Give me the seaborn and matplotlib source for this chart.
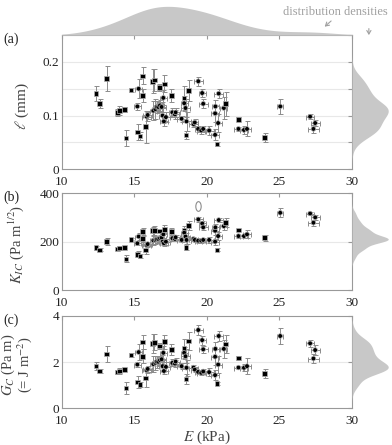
import numpy as np
import pandas as pd
import matplotlib
matplotlib.use("Agg")
import matplotlib.pyplot as plt
import seaborn as sns
from matplotlib.markers import MarkerStyle
from matplotlib.transforms import Affine2D

# Young's modulus (kPa) and its uncertainty
E = [12.34, 12.59, 13.09, 13.83, 13.96, 14.31, 14.42, 14.77, 15.20, 15.22,
     15.29, 15.38, 15.57, 15.57, 15.77, 15.84, 15.91, 16.25, 16.30, 16.37,
     16.44, 16.53, 16.64, 16.71, 16.76, 16.87, 16.94, 16.99, 17.06, 17.03,
     17.17, 17.54, 17.61, 17.79, 17.84, 18.25, 18.41, 18.43, 18.52, 18.55,
     18.59, 18.73, 19.07, 19.16, 19.40, 19.39, 19.60, 19.67, 19.74, 19.74,
     20.15, 20.56, 20.56, 20.58, 20.70, 20.77, 20.81, 21.16, 21.29, 22.17,
     22.17, 22.55, 22.76, 23.97, 25.05, 27.11, 27.46, 27.34]
E_err = [0, 0, 0, 0, 0, 0, 0, 0, 0.25, 0,
         0.25, 0, 0, 0, 0, 0.3, 0.3, 0, 0.25, 0,
         0.25, 0.25, 0.3, 0, 0.3, 0.3, 0.25, 0.25, 0, 0.3,
         0.3, 0, 0.25, 0.25, 0.3, 0.3, 0, 0.25, 0.3, 0,
         0.3, 0, 0.3, 0.25, 0.3, 0.25, 0.3, 0.25, 0.3, 0.3,
         0.3, 0.25, 0.3, 0.25, 0, 0.25, 0.3, 0.25, 0, 0,
         0.3, 0.25, 0.3, 0, 0.2, 0.3, 0.3, 0.4]
shape = ["s", "s", "s", "s", "s", "s", "s", "s", "o", "s",
         "o", "s", "s", "s", "s", "o", "o", "s", "o", "s",
         "o", "o", "o", "s", "o", "o", "o", "o", "s", "o",
         "o", "s", "o", "o", "o", "o", "s", "o", "o", "s",
         "o", "s", "o", "o", "o", "o", "o", "o", "o", "o",
         "o", "o", "o", "o", "s", "o", "o", "o", "s", "s",
         "o", "o", "o", "s", "o", "o", "o", "o"]

# (a) process zone length (mm)
ell = [0.141, 0.122, 0.169, 0.106, 0.109, 0.111, 0.058, 0.148, 0.117, 0.069,
       0.150, 0.062, 0.137, 0.174, 0.079, 0.098, 0.101, 0.164, 0.109, 0.166,
       0.112, 0.116, 0.116, 0.152, 0.119, 0.116, 0.100, 0.133, 0.159, 0.089,
       0.097, 0.137, 0.106, 0.102, 0.106, 0.094, 0.133, 0.123, 0.114, 0.064,
       0.089, 0.147, 0.084, 0.087, 0.164, 0.075, 0.072, 0.142, 0.122, 0.075,
       0.072, 0.064, 0.104, 0.117, 0.047, 0.086, 0.141, 0.114, 0.122, 0.093,
       0.075, 0.073, 0.075, 0.059, 0.117, 0.098, 0.086, 0.075]
ell_err = [0.014, 0.008, 0.024, 0.006, 0.008, 0.004, 0.015, 0.004, 0.006, 0.015,
           0.018, 0.008, 0.012, 0.016, 0.030, 0.008, 0.008, 0.022, 0.018, 0.020,
           0.018, 0.012, 0.010, 0.006, 0.010, 0.010, 0.014, 0.014, 0.016, 0.008,
           0.010, 0.012, 0.008, 0.008, 0.008, 0.006, 0.022, 0.014, 0.016, 0.008,
           0.018, 0.020, 0.006, 0.006, 0.008, 0.006, 0.006, 0.008, 0.008, 0.006,
           0.008, 0.010, 0.016, 0.012, 0.004, 0.016, 0.008, 0.020, 0.022, 0.004,
           0.004, 0.008, 0.014, 0.008, 0.014, 0.005, 0.006, 0.007]

# (b) fracture toughness (Pa m^1/2)
K = [175, 166, 200, 170, 173, 177, 129, 210, 193, 148,
     221, 141, 214, 241, 166, 186, 190, 245, 205, 245,
     207, 210, 211, 244, 214, 216, 200, 230, 251, 193,
     200, 241, 214, 211, 218, 207, 245, 237, 221, 177,
     207, 267, 211, 207, 292, 204, 204, 275, 259, 207,
     207, 200, 245, 259, 166, 223, 289, 264, 278, 248,
     223, 223, 230, 216, 319, 316, 300, 278]
K_err = [8, 6, 14, 6, 8, 5, 14, 5, 8, 12,
         14, 8, 14, 16, 18, 8, 8, 16, 18, 18,
         18, 14, 12, 6, 12, 12, 14, 16, 16, 10,
         12, 14, 10, 10, 10, 8, 18, 14, 16, 12,
         18, 18, 8, 8, 10, 8, 8, 10, 10, 8,
         12, 12, 16, 14, 6, 18, 10, 18, 18, 6,
         6, 10, 16, 12, 18, 8, 10, 12]
E_open = [19.35]
K_open = [347]

# (c) fracture energy (Pa m)
G = [1.82, 1.61, 2.34, 1.57, 1.61, 1.67, 0.87, 2.30, 1.89, 1.13,
     2.43, 1.03, 2.25, 2.87, 1.31, 1.64, 1.70, 2.81, 1.91, 2.85,
     1.96, 2.01, 2.01, 2.69, 2.08, 2.12, 1.82, 2.40, 2.88, 1.61,
     1.79, 2.55, 1.96, 1.93, 2.02, 1.82, 2.59, 2.40, 2.25, 1.27,
     1.75, 2.92, 1.76, 1.67, 3.39, 1.57, 1.53, 2.95, 2.55, 1.59,
     1.56, 1.43, 2.23, 2.57, 1.06, 1.89, 3.13, 2.57, 2.78, 2.18,
     1.76, 1.75, 1.82, 1.50, 3.13, 2.81, 2.52, 2.15]
G_err = [0.18, 0.08, 0.35, 0.08, 0.15, 0.06, 0.25, 0.08, 0.12, 0.25,
         0.35, 0.12, 0.30, 0.30, 0.40, 0.12, 0.12, 0.40, 0.35, 0.35,
         0.30, 0.25, 0.20, 0.12, 0.20, 0.20, 0.25, 0.30, 0.30, 0.15,
         0.20, 0.25, 0.15, 0.15, 0.15, 0.12, 0.40, 0.25, 0.30, 0.22,
         0.35, 0.40, 0.10, 0.10, 0.20, 0.10, 0.10, 0.20, 0.15, 0.10,
         0.18, 0.22, 0.35, 0.30, 0.06, 0.35, 0.20, 0.40, 0.40, 0.08,
         0.08, 0.15, 0.35, 0.20, 0.35, 0.15, 0.20, 0.20]

xticks = [10, 15, 20, 25, 30]

df = pd.DataFrame({"E": E, "E_err": E_err, "shape": shape,
                   "ell": ell, "ell_err": ell_err,
                   "K": K, "K_err": K_err, "G": G, "G_err": G_err})

sns.set_style("white")
plt.rcParams["font.family"] = ["Liberation Serif", "DejaVu Serif"]
plt.rcParams["mathtext.fontset"] = "stix"

fig = plt.figure(figsize=(3.92, 4.45), dpi=100)
L, W = 0.158, 0.740
RW = 0.097
boxes = [(0.620, 0.301), (0.348, 0.218), (0.083, 0.207)]

panels = [
    ("ell", "ell_err", (0, 0.25), [0, 0.05, 0.1, 0.15, 0.2, 0.25], {0: "0", 0.1: "0.1", 0.2: "0.2"},
     r"$\ell$ (mm)", "(a)", 1.0, -0.105, 11),
    ("K", "K_err", (0, 400), [0, 200, 400], {0: "0", 200: "200", 400: "400"},
     r"$K_{IC}$ (Pa m$^{1/2}$)", "(b)", 0.8, -0.125, 10.5),
    ("G", "G_err", (0, 4), [0, 2, 4], {0: "0", 2: "2", 4: "4"},
     "$G_C$ (Pa m)\n(= J m$^{-2}$)", "(c)", 0.9, -0.095, 10.5),
]

gray = "#8c8c8c"
circles = df[df["shape"] == "o"]

for (bottom, height), (col, ecol, ylim, yt, ylabs, ylabel, letter, bw, lx, lfs) in zip(boxes, panels):
    ax = fig.add_axes([L, bottom, W, height])
    for yv in yt[1:-1]:
        ax.axhline(yv, color="#e8e8e8", lw=0.8, zorder=0)
    ax.errorbar(df["E"], df[col], yerr=df[ecol], fmt="none", ecolor=gray,
                elinewidth=0.7, capsize=1.8, capthick=0.7, zorder=2)
    ax.errorbar(circles["E"], circles[col], xerr=circles["E_err"], fmt="none", ecolor=gray,
                elinewidth=0.7, capsize=1.8, capthick=0.7, zorder=2)
    sns.scatterplot(data=df, x="E", y=col, style="shape", markers={"s": "s", "o": "o"},
                    color="black", edgecolor="#b0b0b0", linewidth=0.5, s=11, legend=False,
                    zorder=3, ax=ax)
    if col == "K":
        ax.plot(E_open, K_open, linestyle="none", color=gray,
                marker=MarkerStyle("o", fillstyle="none", transform=Affine2D().scale(0.55, 1.0)),
                markersize=7, markeredgewidth=0.8)
    ax.set_xlim(10, 30)
    ax.set_ylim(*ylim)
    ax.set_xticks(xticks)
    ax.set_yticks(yt)
    ax.set_yticklabels([ylabs.get(round(v, 3), "") for v in yt])
    ax.tick_params(direction="in", length=3, color="#999999", top=True, right=True,
                   labelsize=9.5, labelcolor="#222222")
    ax.tick_params(axis="x", pad=5)
    ax.tick_params(axis="y", pad=2)
    for s in ax.spines.values():
        s.set_color("#999999")
        s.set_linewidth(0.8)
    ax.set_xlabel("")
    ax.set_ylabel(ylabel, fontsize=lfs, color="#444444", linespacing=0.9)
    ax.yaxis.set_label_coords(lx, 0.47)
    fig.text(0.008, bottom + height - 0.01, letter, fontsize=10, color="#222222", va="center")

    axr = fig.add_axes([L + W, bottom, RW, height])
    sns.kdeplot(y=df[col], ax=axr, fill=True, color="#c8c8c8", alpha=1, linewidth=0,
                bw_adjust=bw, clip=ylim)
    axr.set_ylim(*ylim)
    axr.set_xlim(0, None)
    axr.margins(x=0)
    axr.axis("off")
    last = ax

last.set_xlabel("$E$ (kPa)", fontsize=11, color="#444444", labelpad=1)

axt = fig.add_axes([L, 0.921, W, 0.068])
sns.kdeplot(x=df["E"], ax=axt, fill=True, color="#c8c8c8", alpha=1, linewidth=0,
            bw_adjust=1.2, clip=(10, 30))
axt.set_xlim(10, 30)
axt.set_ylim(0, None)
axt.margins(y=0)
axt.axis("off")

fig.text(0.99, 0.973, "distribution densities", fontsize=9, color="#a0a0a0",
         ha="right", va="center")
fig.patches.append(matplotlib.patches.FancyArrowPatch(
    (0.850, 0.957), (0.823, 0.936), transform=fig.transFigure, arrowstyle="->,head_width=1.5,head_length=2.5",
    color="#a0a0a0", lw=0.8))
fig.patches.append(matplotlib.patches.FancyArrowPatch(
    (0.941, 0.942), (0.941, 0.915), transform=fig.transFigure, arrowstyle="->,head_width=1.5,head_length=2.5",
    color="#a0a0a0", lw=0.8))

fig.savefig("out.png", dpi=100)
